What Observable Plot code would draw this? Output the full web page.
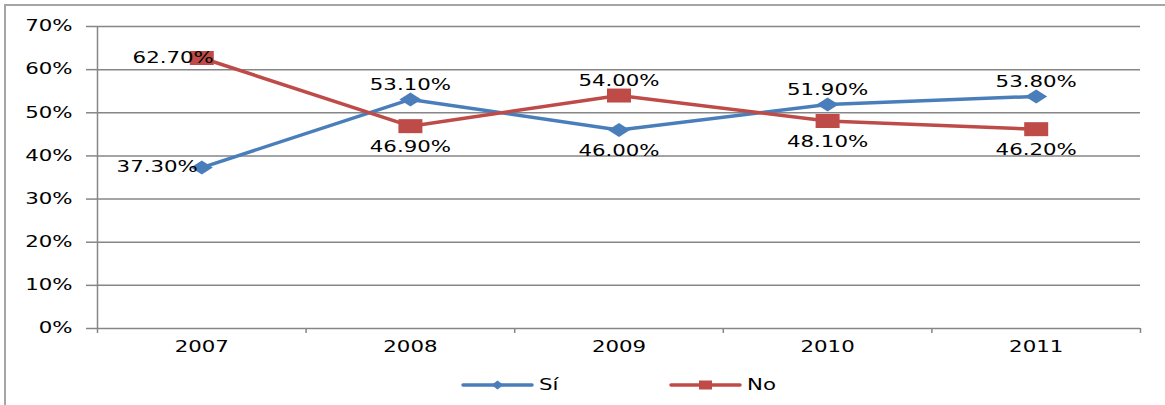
<!DOCTYPE html>
<html><head><meta charset="utf-8">
<script src="https://cdn.jsdelivr.net/npm/d3@7"></script>
<script src="https://cdn.jsdelivr.net/npm/@observablehq/plot@0.6"></script>
<style>
html,body{margin:0;padding:0;background:#fff;overflow:hidden;width:1165px;height:405px;}
#wrap{position:relative;width:1165px;height:405px;}
#frame{position:absolute;left:4px;top:4px;width:1300px;height:500px;border-left:2px solid #a5a5a5;border-top:2px solid #a5a5a5;box-sizing:border-box;}
#chart{position:absolute;left:0;top:0;}
#legend{position:absolute;left:0;top:368px;}
</style></head><body>
<div id="wrap"><div id="frame"></div><div id="chart"></div><div id="legend"></div></div>
<script>
// ---- data ----
const years = ["2007", "2008", "2009", "2010", "2011"];
const si = [37.3, 53.1, 46.0, 51.9, 53.8];
const no = [62.7, 46.9, 54.0, 48.1, 46.2];
const seriesNames = ["Sí", "No"];
const yTicks = [0, 10, 20, 30, 40, 50, 60, 70];

// ---- styles ----
const COLORS = {"Sí": "#4a7ebb", "No": "#be4b48"};
const GRID = "#868686";
const FONT = "DejaVu Sans, Verdana, sans-serif";
const STRETCH = 1.42;

const diamond = (w, h) => ({draw(ctx) { ctx.moveTo(-w/2, 0); ctx.lineTo(0, -h/2); ctx.lineTo(w/2, 0); ctx.lineTo(0, h/2); ctx.closePath(); }});
const rect = (w, h) => ({draw(ctx) { ctx.rect(-w/2, -h/2, w, h); }});
const SYMBOLS = {"Sí": diamond(22, 14), "No": rect(24, 14)};

const rows = years.map((year, k) => ({pos: k + 1, year, si: si[k], no: no[k]}));
const long = [];
rows.forEach((r, k) => {
  [["Sí", r.si, r.no], ["No", r.no, r.si]].forEach(([s, v, other]) => {
    long.push({pos: r.pos, series: s, value: v, label: v.toFixed(2) + "%",
      place: k === 0 ? "left" : (v >= other ? "above" : "below")});
  });
});

const seps = d3.range(0.5, years.length + 1, 1);

const plot = Plot.plot({
  width: 1165, height: 360,
  marginLeft: 97, marginRight: 25, marginTop: 26, marginBottom: 32,
  style: {fontFamily: FONT, fontSize: "15px", color: "#000", background: "transparent"},
  x: {type: "linear", domain: [0.5, years.length + 0.5], label: null},
  y: {domain: [0, 70], label: null},
  marks: [
    Plot.gridY(yTicks.filter(d => d > 0), {stroke: GRID, strokeOpacity: 1, strokeWidth: 1.5}),
    Plot.axisY({ticks: yTicks, tickSize: 11, tickPadding: 14, tickFormat: d => d + "%", stroke: GRID, strokeWidth: 1.5, fill: "#000", fontSize: 15, label: null}),
    Plot.axisX({ticks: seps, tickSize: 5, tickFormat: () => "", stroke: GRID, strokeWidth: 1.5, label: null}),
    Plot.axisX({ticks: rows.map(r => r.pos), tickSize: 0, tickPadding: 13, tickFormat: p => years[p - 1], fill: "#000", fontSize: 15, label: null}),
    Plot.ruleY([0], {stroke: GRID, strokeWidth: 1.5}),
    Plot.ruleX([0.5], {y1: 0, y2: 70, stroke: GRID, strokeWidth: 1.5}),
    ...seriesNames.map(s => Plot.line(long.filter(d => d.series === s), {x: "pos", y: "value", stroke: COLORS[s], strokeWidth: 3.5})),
    ...seriesNames.map(s => Plot.dot(long.filter(d => d.series === s), {x: "pos", y: "value", fill: COLORS[s], stroke: "none", symbol: SYMBOLS[s]})),
    Plot.text(long.filter(d => d.place === "above"), {x: "pos", y: "value", text: "label", dy: -14, fill: "#000", fontSize: 15}),
    Plot.text(long.filter(d => d.place === "below"), {x: "pos", y: "value", text: "label", dy: 21, fill: "#000", fontSize: 15}),
    Plot.text(long.filter(d => d.place === "left" && d.series === "Sí"), {x: "pos", y: "value", text: "label", textAnchor: "end", dx: -4, fill: "#000", fontSize: 15}),
    Plot.text(long.filter(d => d.place === "left" && d.series === "No"), {x: "pos", y: "value", text: "label", textAnchor: "end", dx: 12, fill: "#000", fontSize: 15})
  ]
});
document.getElementById("chart").appendChild(plot);

// ---- legend ----
const leg = d3.select("#legend").append("svg").attr("width", 1165).attr("height", 34)
  .style("font-family", FONT).style("font-size", "15px");
const legItems = [
  {s: "Sí", x0: 463, sym: diamond(12, 9)},
  {s: "No", x0: 671, sym: rect(13, 9)}
];
legItems.forEach(it => {
  const g = leg.append("g").attr("transform", `translate(${it.x0},17)`);
  g.append("line").attr("x1", 0).attr("x2", 69).attr("stroke", COLORS[it.s]).attr("stroke-width", 3.5).attr("stroke-linecap", "round");
  g.append("path").attr("transform", "translate(34.5,0)").attr("fill", COLORS[it.s]).attr("d", d3.symbol(it.sym)());
  g.append("text").attr("x", 76).attr("dy", "0.36em").attr("fill", "#000").text(it.s);
});

// stretch glyphs horizontally like the reference
document.querySelectorAll("svg text").forEach(t => {
  const len = t.getComputedTextLength();
  if (len > 0) { t.setAttribute("textLength", len * STRETCH); t.setAttribute("lengthAdjust", "spacingAndGlyphs"); }
});
</script>
</body></html>
